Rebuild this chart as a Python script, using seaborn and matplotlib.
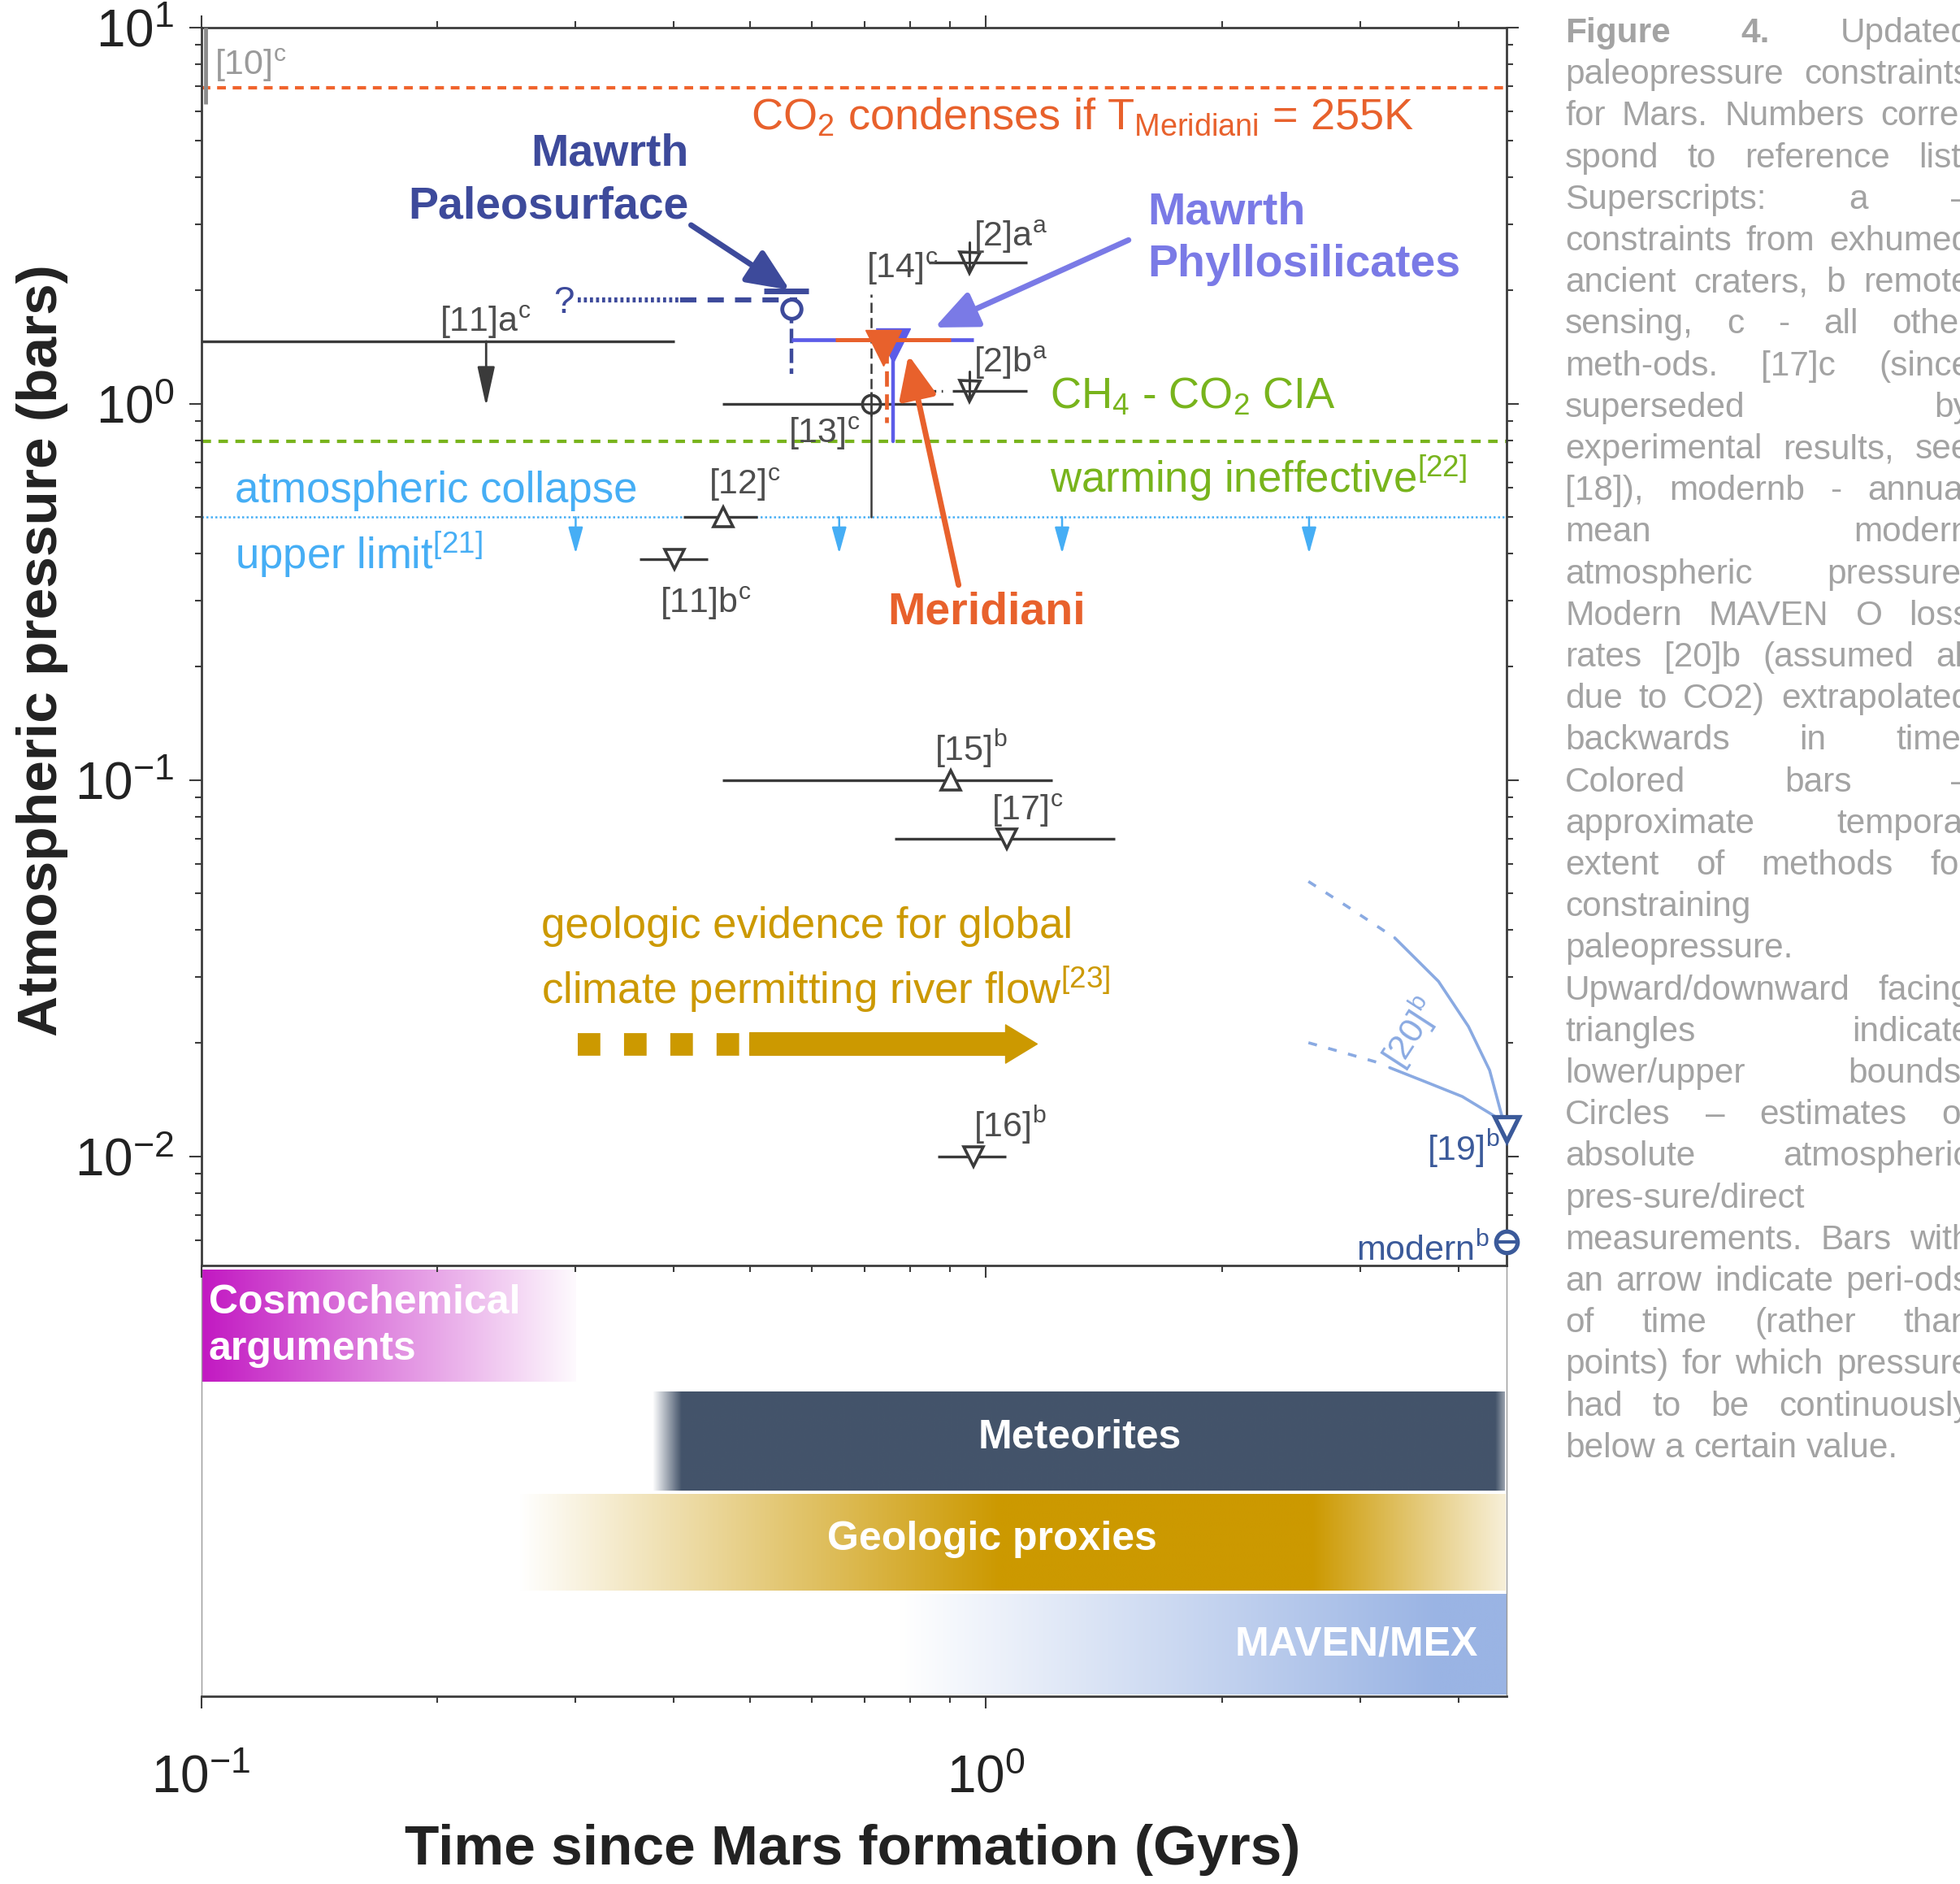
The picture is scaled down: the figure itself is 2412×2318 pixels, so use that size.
import numpy as np
import matplotlib
matplotlib.use("Agg")
import matplotlib.pyplot as plt
import matplotlib.colors as mcolors
from matplotlib.ticker import FixedLocator, FixedFormatter, NullFormatter, NullLocator, LogLocator, LogFormatterMathtext
import seaborn as sns

# ---------------- data (Gyr since formation, bar) ----------------
x_lim_gyr = [0.1, 4.6]
p_lim_bar = [0.00514, 10.0]

co2_condense_p = 6.93
cia_limit_p = 0.795
collapse_p = 0.5
collapse_arrow_x = [0.30, 0.65, 1.25, 2.58]
collapse_arrow_to = 0.40

ref10_x = 0.1013
ref10_p = [10.0, 6.27]

# black constraint bars
bar_name = ["[11]a", "[12]", "[11]b", "[13]", "[14]", "[2]b", "[15]", "[17]", "[16]"]
bar_x0 = [0.100, 0.412, 0.362, 0.461, 0.845, 0.905, 0.461, 0.765, 0.867]
bar_x1 = [0.401, 0.511, 0.442, 0.909, 1.128, 1.128, 1.214, 1.459, 1.060]
bar_p = [1.466, 0.500, 0.387, 1.000, 2.374, 1.080, 0.100, 0.0698, 0.0100]
bar2b_dash_x = [0.850, 0.880]

lower_x = [0.463, 0.902]
lower_p = [0.500, 0.100]
upper_x = [0.401, 1.064, 0.964]
upper_p = [0.387, 0.0698, 0.0100]
crater_x = [0.953, 0.953]
crater_p = [2.374, 1.080]
est_x = [0.714]
est_p = [1.0]
est_vert_p = [0.5, 1.0, 1.96]
arrow11_x = 0.2307
arrow11_p = [1.466, 0.985]

# Mawrth paleosurface / phyllosilicates / Meridiani
paleo_p = 1.89
paleo_dotted_x = [0.302, 0.408]
paleo_dashed_x = [0.408, 0.574]
paleo_x = 0.5645
paleo_est_p = 1.79
paleo_cap_x = [0.521, 0.594]
paleo_cap_p = 1.99
paleo_low_p = 1.20
phyllo_x = [0.5645, 0.964]
phyllo_p = 1.477
phyllo_mark_x = 0.762
phyllo_mark_p = 1.43
phyllo_low_p = 0.795
merid_x = [0.642, 0.902]
merid_p = 1.477
merid_mark_x = 0.740
merid_mark_p = 1.41
merid_vert_x = 0.746
merid_low_p = 0.892

# remote sensing
p19_x, p19_p = 4.6, 0.01183
modern_x, modern_p = 4.6, 0.00594
maven_hi_dash_x = [2.575, 2.917, 3.317]
maven_hi_dash_p = [0.0538, 0.0455, 0.0381]
maven_hi_x = [3.317, 3.771, 4.118, 4.382, 4.562]
maven_hi_p = [0.0381, 0.0292, 0.02215, 0.01694, 0.01239]
maven_lo_dash_x = [2.575, 2.854, 3.162]
maven_lo_dash_p = [0.02006, 0.01888, 0.01775]
maven_lo_x = [3.268, 3.622, 4.044, 4.562]
maven_lo_p = [0.01722, 0.01582, 0.01443, 0.01239]

# river-flow arrow
river_p = 0.0199
river_dash_x = [0.3015, 0.4857]
river_arrow_x = [0.500, 1.162]

# method bands (lower panel)
method_label = ["Cosmochemical\narguments", "Meteorites", "Geologic proxies", "MAVEN/MEX"]
method_color = ["#c218c2", "#44546a", "#cc9900", "#9ab4e4"]
method_stops_gyr = [[0.100, 0.300], [0.376, 0.409, 4.46, 4.58],
                    [0.254, 1.04, 2.60, 4.58], [0.776, 3.76, 4.60]]
method_stops_alpha = [[1.0, 0.02], [0.0, 1.0, 1.0, 0.55],
                      [0.0, 1.0, 1.0, 0.15], [0.0, 1.0, 1.0]]
method_rows = [(0.04, 1.16), (1.26, 2.25), (2.29, 3.25), (3.29, 4.29)]

caption_lines = [
    "Figure 4. Updated",
    "paleopressure constraints",
    "for Mars. Numbers corre-",
    "spond to reference list.",
    "Superscripts: a \u2013",
    "constraints from exhumed",
    "ancient craters, b remote",
    "sensing, c - all other",
    "meth-ods. [17]c (since",
    "superseded by",
    "experimental results, see",
    "[18]), modernb - annual",
    "mean modern",
    "atmospheric pressure.",
    "Modern MAVEN O loss",
    "rates [20]b (assumed all",
    "due to CO2) extrapolated",
    "backwards in time.",
    "Colored bars \u2013",
    "approximate temporal",
    "extent of methods for",
    "constraining",
    "paleopressure.",
    "Upward/downward facing",
    "triangles indicate",
    "lower/upper bounds.",
    "Circles \u2013 estimates of",
    "absolute atmospheric",
    "pres-sure/direct",
    "measurements. Bars with",
    "an arrow indicate peri-ods",
    "of time (rather than",
    "points) for which pressure",
    "had to be continuously",
    "below a certain value.",
]
caption_para_ends = [22, 34]

# ---------------- style ----------------
sns.set_theme(style="white")
plt.rcParams["font.family"] = ["Liberation Sans", "DejaVu Sans"]
plt.rcParams["mathtext.fontset"] = "custom"
plt.rcParams["mathtext.rm"] = "Liberation Sans"
plt.rcParams["mathtext.it"] = "Liberation Sans:italic"
plt.rcParams["mathtext.bf"] = "Liberation Sans:bold"
plt.rcParams["mathtext.default"] = "regular"

C_SPINE = "#3c3c3c"
C_BLACK = "#3a3a3a"
C_GRAY = "#4d4d4d"
C_NAVY = "#3d4a9b"
C_PHYL_T = "#7a7ae6"
C_PHYL = "#5c5ce8"
C_MER = "#e8612c"
C_GREEN = "#78b41c"
C_BLUE = "#46aef5"
C_GOLD = "#cc9900"
C_REM = "#3b5a9a"
C_MAVEN = "#8aaae2"
C_CAP = "#a3a3a3"

W, H = 2412, 2318
fig = plt.figure(figsize=(W / 100, H / 100), dpi=100)
ax_bot = fig.add_axes([0.10266, 0.09944, 0.66580, 0.22899])
ax = fig.add_axes([0.10266, 0.32843, 0.66580, 0.65697])

# ---------------- main panel ----------------
ax.set_xscale("log")
ax.set_yscale("log")
ax.set_xlim(*x_lim_gyr)
ax.set_ylim(*p_lim_bar)
ax.set_facecolor("white")

for s in ax.spines.values():
    s.set_color(C_SPINE)
    s.set_linewidth(2.0)
ax.tick_params(which="both", direction="out", top=True, right=True, bottom=True, left=True,
               color=C_SPINE, width=1.5)
ax.tick_params(which="major", length=11)
ax.tick_params(which="minor", length=6)
ax.tick_params(axis="x", labelbottom=False)
ax.tick_params(axis="y", labelsize=46, pad=13, labelcolor="#222222")
ax.yaxis.set_major_locator(LogLocator(base=10, numticks=10))
ax.yaxis.set_minor_locator(LogLocator(base=10, subs=np.arange(2, 10), numticks=10))
ax.yaxis.set_major_formatter(LogFormatterMathtext())
ax.yaxis.set_minor_formatter(NullFormatter())
ax.xaxis.set_minor_formatter(NullFormatter())
ax.grid(False)

ax.set_ylabel("Atmospheric pressure (bars)", fontsize=50, fontweight="bold", color="#222222")
ax.yaxis.label.set_va("center")
ax.yaxis.set_label_coords(-0.1215, 0.497)

# horizontal reference lines
ax.axhline(co2_condense_p, color="#f0642d", lw=3.0, ls=(0, (2.6, 2.0)), zorder=2)
ax.axhline(cia_limit_p, color=C_GREEN, lw=3.0, ls=(0, (2.8, 2.2)), zorder=2)
ax.axhline(collapse_p, color=C_BLUE, lw=1.8, ls=(0, (1, 1.2)), zorder=2)
for xa in collapse_arrow_x:
    ax.annotate("", xy=(xa, collapse_arrow_to), xytext=(xa, collapse_p),
                arrowprops=dict(arrowstyle="-|>,head_width=0.25,head_length=0.9", color=C_BLUE,
                                lw=1.8, mutation_scale=22, shrinkA=0, shrinkB=0), zorder=3)

# [10]c
ax.plot([ref10_x, ref10_x], ref10_p, color="#8c8c8c", lw=3.5, solid_capstyle="butt", clip_on=False, zorder=3)

# black constraint bars
for x0, x1, p in zip(bar_x0, bar_x1, bar_p):
    ax.plot([x0, x1], [p, p], color=C_BLACK, lw=2.4, solid_capstyle="butt", zorder=4)
ax.plot(bar2b_dash_x, [bar_p[5]] * 2, color=C_BLACK, lw=2.4, ls=(0, (2, 2)), zorder=4)
ax.annotate("", xy=(arrow11_x, arrow11_p[1]), xytext=(arrow11_x, arrow11_p[0]),
            arrowprops=dict(arrowstyle="-|>,head_width=0.22,head_length=1.0", color=C_BLACK,
                            lw=2.0, mutation_scale=30, shrinkA=0, shrinkB=0), zorder=4)
ax.plot([est_x[0]] * 2, est_vert_p[:2], color=C_BLACK, lw=1.8, zorder=4)
ax.plot([est_x[0]] * 2, est_vert_p[1:], color=C_BLACK, lw=1.8, ls=(0, (5, 2.5)), zorder=4)

ax.plot(lower_x, lower_p, ls="none", marker="^", ms=17, mfc="white", mec=C_BLACK, mew=2.6, zorder=6)
ax.plot(upper_x, upper_p, ls="none", marker="v", ms=17, mfc="white", mec=C_BLACK, mew=2.6, zorder=6)
ax.plot(crater_x, crater_p, ls="none", marker="v", ms=18, mfc="white", mec=C_BLACK, mew=2.6, zorder=6)
ax.plot(crater_x, crater_p, ls="none", marker="+", ms=14, mec=C_BLACK, mew=2.2, zorder=7)
for cx, cp in zip(crater_x, crater_p):
    ax.plot([cx, cx], [cp, cp * 1.13], color=C_BLACK, lw=2.2, zorder=7)
ax.plot(est_x, est_p, ls="none", marker="o", ms=16, mfc="white", mec=C_BLACK, mew=2.6, zorder=6)
ax.plot(est_x, est_p, ls="none", marker="+", ms=22, mec=C_BLACK, mew=2.0, zorder=7)

# Mawrth paleosurface
ax.plot(paleo_dotted_x, [paleo_p] * 2, color=C_NAVY, lw=4.5, ls=(0, (0.6, 0.6)), zorder=5)
ax.plot(paleo_dashed_x, [paleo_p] * 2, color=C_NAVY, lw=4.5, ls=(0, (3.2, 2.2)), zorder=5)
ax.plot(paleo_cap_x, [paleo_cap_p] * 2, color=C_NAVY, lw=5, solid_capstyle="butt", zorder=6)
ax.plot([paleo_x, paleo_x], [paleo_est_p, paleo_low_p], color=C_NAVY, lw=3.2, ls=(0, (4, 1.5)), zorder=5)
ax.plot([paleo_x], [paleo_est_p], ls="none", marker="o", ms=17, mfc="white", mec=C_NAVY, mew=3.5, zorder=6)

# phyllosilicates / Meridiani
ax.plot(phyllo_x, [phyllo_p] * 2, color=C_PHYL, lw=3.4, solid_capstyle="butt", zorder=6)
ax.plot([phyllo_mark_x] * 2, [phyllo_mark_p, phyllo_low_p], color=C_PHYL, lw=3.2, zorder=6)
ax.plot([phyllo_mark_x], [phyllo_mark_p], ls="none", marker="v", ms=30, color=C_PHYL, zorder=6)
ax.plot(merid_x, [merid_p] * 2, color=C_MER, lw=3.6, solid_capstyle="butt", zorder=7)
ax.plot([merid_vert_x] * 2, [merid_mark_p, merid_low_p], color=C_MER, lw=3.4, ls=(0, (4, 2)), zorder=7)
ax.plot([merid_mark_x], [merid_mark_p], ls="none", marker="v", ms=32, color=C_MER, zorder=8)

# remote-sensing extrapolations
sns.lineplot(x=maven_hi_x, y=maven_hi_p, ax=ax, color=C_MAVEN, lw=2.6, sort=False, estimator=None, zorder=5)
sns.lineplot(x=maven_lo_x, y=maven_lo_p, ax=ax, color=C_MAVEN, lw=2.6, sort=False, estimator=None, zorder=5)
sns.lineplot(x=maven_hi_dash_x, y=maven_hi_dash_p, ax=ax, color=C_MAVEN, lw=2.6, sort=False,
             estimator=None, linestyle=(0, (3, 4)), zorder=5)
sns.lineplot(x=maven_lo_dash_x, y=maven_lo_dash_p, ax=ax, color=C_MAVEN, lw=2.6, sort=False,
             estimator=None, linestyle=(0, (3, 4)), zorder=5)
ax.plot([p19_x], [p19_p], ls="none", marker="v", ms=22, mfc="white", mec=C_REM, mew=3.8, clip_on=False, zorder=8)
ax.plot([modern_x], [modern_p], ls="none", marker="o", ms=19, mfc="white", mec=C_REM, mew=3.8, clip_on=False, zorder=8)
ax.plot([modern_x], [modern_p], ls="none", marker="_", ms=19, mec=C_REM, mew=3.0, clip_on=False, zorder=9)

# river-flow arrow
ax.plot(river_dash_x, [river_p] * 2, color=C_GOLD, lw=20, ls=(0, (1.0, 1.05)), dash_capstyle="butt",
        solid_capstyle="butt", zorder=4)
ax.annotate("", xy=(river_arrow_x[1], river_p), xytext=(river_arrow_x[0], river_p),
            arrowprops=dict(arrowstyle="simple,head_width=0.34,head_length=0.28,tail_width=0.2",
                            color=C_GOLD, mutation_scale=100, shrinkA=0, shrinkB=0), zorder=4)

# annotation arrows
ax.annotate("", xy=(0.5623, 2.006), xytext=(0.4209, 2.985),
            arrowprops=dict(arrowstyle="-|>,head_width=0.35,head_length=0.8", color=C_NAVY, lw=5,
                            mutation_scale=40, shrinkA=0, shrinkB=0), zorder=9)
ax.annotate("", xy=(0.860, 1.595), xytext=(1.519, 2.724),
            arrowprops=dict(arrowstyle="-|>,head_width=0.35,head_length=0.8", color=C_PHYL_T, lw=5,
                            mutation_scale=40, shrinkA=0, shrinkB=0), zorder=9)
ax.annotate("", xy=(0.7965, 1.348), xytext=(0.9226, 0.330),
            arrowprops=dict(arrowstyle="-|>,head_width=0.35,head_length=0.8", color=C_MER, lw=5,
                            mutation_scale=40, shrinkA=0, shrinkB=0), zorder=9)

# ---------------- texts in main panel ----------------
def t(x, p, s, size=31, color=C_GRAY, ha="left", **kw):
    ax.text(x, p, s, fontsize=size, color=color, ha=ha, va="baseline", zorder=10, **kw)

t(0.104, 7.48, "[10]$^{c}$", color="#9a9a9a")
t(0.502, 5.38, "CO$_{2}$ condenses if T$_{Meridiani}$ = 255K", size=39, color=C_MER)
t(1.206, 0.97, "CH$_{4}$ - CO$_{2}$ CIA", size=38, color=C_GREEN)
t(1.206, 0.581, "warming ineffective$^{[22]}$", size=38, color=C_GREEN)
t(0.1104, 0.5465, "atmospheric collapse", size=38, color=C_BLUE)
t(0.1104, 0.3642, "upper limit$^{[21]}$", size=38, color=C_BLUE)
t(0.271, 0.0381, "geologic evidence for global", size=38, color=C_GOLD)
t(0.271, 0.0254, "climate permitting river flow$^{[23]}$", size=38, color=C_GOLD)

t(0.2633, 1.558, "[11]a$^{c}$", ha="right")
t(0.2810, 1.748, "?", size=33, color=C_NAVY)
t(0.443, 0.5765, "[12]$^{c}$")
t(0.3842, 0.2788, "[11]b$^{c}$")
t(0.6907, 0.789, "[13]$^{c}$", ha="right")
t(0.7036, 2.165, "[14]$^{c}$")
t(0.964, 2.622, "[2]a$^{a}$")
t(0.964, 1.211, "[2]b$^{a}$")
t(0.860, 0.113, "[15]$^{b}$")
t(1.015, 0.0783, "[17]$^{c}$")
t(0.964, 0.0113, "[16]$^{b}$")
t(4.513, 0.00977, "[19]$^{b}$", color=C_REM, ha="right")
t(4.382, 0.0053, "modern$^{b}$", color=C_REM, ha="right")
ax.text(3.478, 0.0213, "[20]$^{b}$", fontsize=31, color=C_MAVEN, rotation=57,
        ha="center", va="center", zorder=10)

ax.text(0.4178, 3.93, "Mawrth\nPaleosurface", fontsize=40, fontweight="bold", color=C_NAVY,
        ha="right", va="center", multialignment="right", linespacing=1.33, zorder=10)
ax.text(1.605, 2.745, "Mawrth\nPhyllosilicates", fontsize=40, fontweight="bold", color=C_PHYL_T,
        ha="left", va="center", multialignment="left", linespacing=1.33, zorder=10)
ax.text(0.7484, 0.2788, "Meridiani", fontsize=40, fontweight="bold", color=C_MER,
        ha="left", va="center", zorder=10)

# ---------------- lower panel (x in log10 Gyr) ----------------
lx_lim = np.log10(x_lim_gyr)
for stops, alphas, col, (y0, y1) in zip(method_stops_gyr, method_stops_alpha, method_color, method_rows):
    ls = np.log10(stops)
    lx = np.linspace(ls[0], ls[-1], 1200)
    a = np.interp(lx, ls, alphas)
    rgb = np.array(mcolors.to_rgb(col))
    img = 1.0 - a[:, None] * (1.0 - rgb[None, :])
    img = np.repeat(img[None, :, :], 2, axis=0)
    ax_bot.imshow(img, extent=[lx[0], lx[-1], y1, y0], aspect="auto", interpolation="bilinear", zorder=1)

ax_bot.set_xlim(*lx_lim)
ax_bot.set_ylim(4.31, 0)
ax_bot.set_facecolor("white")
ax_bot.grid(False)

bx = [-0.9904, np.log10(1.317), np.log10(1.018), np.log10(4.24)]
by = [0.61, 1.725, 2.74, 3.79]
bha = ["left", "center", "center", "right"]
for s, x, y, ha in zip(method_label, bx, by, bha):
    ax_bot.text(x, y, s, fontsize=36, fontweight="bold", color="white", ha=ha, va="center",
                linespacing=1.3, zorder=5)

major_gyr = [0.1, 1.0]
minor_gyr = [0.2, 0.3, 0.4, 0.5, 0.6, 0.7, 0.8, 0.9, 2.0, 3.0, 4.0]
ax_bot.xaxis.set_major_locator(FixedLocator(np.log10(major_gyr)))
ax_bot.xaxis.set_minor_locator(FixedLocator(np.log10(minor_gyr)))
ax_bot.xaxis.set_major_formatter(FixedFormatter([r"$\mathdefault{10^{-1}}$", r"$\mathdefault{10^{0}}$"]))
ax_bot.yaxis.set_major_locator(NullLocator())
ax_bot.tick_params(axis="x", which="both", direction="out", bottom=True, top=False, color=C_SPINE, width=1.5)
ax_bot.tick_params(axis="x", which="major", length=11, labelsize=46, pad=40, labelcolor="#222222")
ax_bot.tick_params(axis="x", which="minor", length=6)
ax_bot.spines["top"].set_visible(False)
for side in ["left", "right"]:
    ax_bot.spines[side].set_color("#9a9a9a")
    ax_bot.spines[side].set_linewidth(1.0)
ax_bot.spines["bottom"].set_color(C_SPINE)
ax_bot.spines["bottom"].set_linewidth(2.0)

ax_bot.set_xlabel("Time since Mars formation (Gyrs)", fontsize=50, fontweight="bold", color="#222222")
ax_bot.xaxis.label.set_va("center")
ax_bot.xaxis.set_label_coords(0.499, -0.355)

# ---------------- caption (justified) ----------------
renderer = fig.canvas.get_renderer()
cap_left, cap_right = 1926.0, 2425.0
cap_fs = 30.5
space_px = cap_fs * 0.278 * 100 / 72
for i, line in enumerate(caption_lines):
    words = line.split(" ")
    ybase = 1 - (52 + i * 51.2) / H
    objs = []
    for j, w in enumerate(words):
        bold = (i == 0 and j < 2)
        objs.append(fig.text(0, ybase, w, fontsize=cap_fs, color=C_CAP,
                             fontweight="bold" if bold else "normal", ha="left", va="baseline"))
    widths = [o.get_window_extent(renderer=renderer).width for o in objs]
    if len(words) > 1 and i not in caption_para_ends:
        gap = (cap_right - cap_left - sum(widths)) / (len(words) - 1)
    else:
        gap = space_px
    xpos = cap_left
    for o, wd in zip(objs, widths):
        o.set_x(xpos / W)
        xpos += wd + gap

fig.savefig("out.png", dpi=100)
